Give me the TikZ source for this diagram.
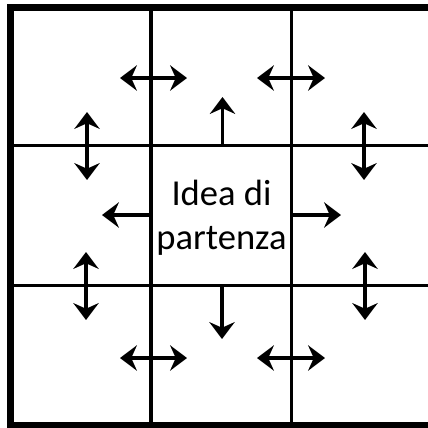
\documentclass[tikz,border=0pt]{standalone}
\usepackage{fontspec}
\setmainfont{Carlito}
\usetikzlibrary{arrows.meta,positioning}
\tikzstyle{border} = [line width=5pt]
\tikzstyle{gridline} = [line width=2.35pt]
\tikzstyle{arrow} = [line width=2.3pt,-{Stealth[length=12pt,width=18pt,inset=4pt]}]
\tikzstyle{twoway} = [line width=2.3pt,{Stealth[length=12pt,width=18pt,inset=4pt]}-{Stealth[length=12pt,width=18pt,inset=4pt]}]
\tikzstyle{idea} = [align=center, inner sep=0pt, font=\fontsize{26}{31}\selectfont]

\begin{document}
\begin{tikzpicture}[x=0.025cm, y=-0.025cm]
	\useasboundingbox (0,0) rectangle (428,428);
	\clip (0,0) rectangle (428,428);
	
	% griglia
	\draw [gridline] (151,7.5) -- (151,425.5);
	\draw [gridline] (291.5,7.5) -- (291.5,425.5);
	\draw [gridline] (10.5,145.7) -- (432,145.7);
	\draw [gridline] (10.5,285.3) -- (432,285.3);
	\draw [border] (10.5,7.5) rectangle (432,425.5);
	
	\node (start) [idea] at (221.5,218) {Idea di\\partenza};
	
	% frecce dal centro
	\coordinate (upA) at (222.5,146); \coordinate (upB) at (222.5,97);
	\coordinate (downA) at (222,285); \coordinate (downB) at (222,339);
	\coordinate (leftA) at (151,215); \coordinate (leftB) at (102,215);
	\coordinate (rightA) at (291,215); \coordinate (rightB) at (341,215);
	\draw [arrow] (upA) -- (upB);
	\draw [arrow] (downA) -- (downB);
	\draw [arrow] (leftA) -- (leftB);
	\draw [arrow] (rightA) -- (rightB);
	
	% frecce doppie
	\coordinate (topL1) at (120,78); \coordinate (topL2) at (187,78);
	\coordinate (topR1) at (257,78); \coordinate (topR2) at (325,78);
	\coordinate (botL1) at (120,358); \coordinate (botL2) at (187,358);
	\coordinate (botR1) at (257,358); \coordinate (botR2) at (325,358);
	\coordinate (sxU1) at (87,112); \coordinate (sxU2) at (87,180);
	\coordinate (dxU1) at (364,112); \coordinate (dxU2) at (364,180);
	\coordinate (sxD1) at (86,252); \coordinate (sxD2) at (86,320);
	\coordinate (dxD1) at (365,252); \coordinate (dxD2) at (365,320);
	\draw [twoway] (topL1) -- (topL2);
	\draw [twoway] (topR1) -- (topR2);
	\draw [twoway] (botL1) -- (botL2);
	\draw [twoway] (botR1) -- (botR2);
	\draw [twoway] (sxU1) -- (sxU2);
	\draw [twoway] (dxU1) -- (dxU2);
	\draw [twoway] (sxD1) -- (sxD2);
	\draw [twoway] (dxD1) -- (dxD2);
\end{tikzpicture}
\end{document}
